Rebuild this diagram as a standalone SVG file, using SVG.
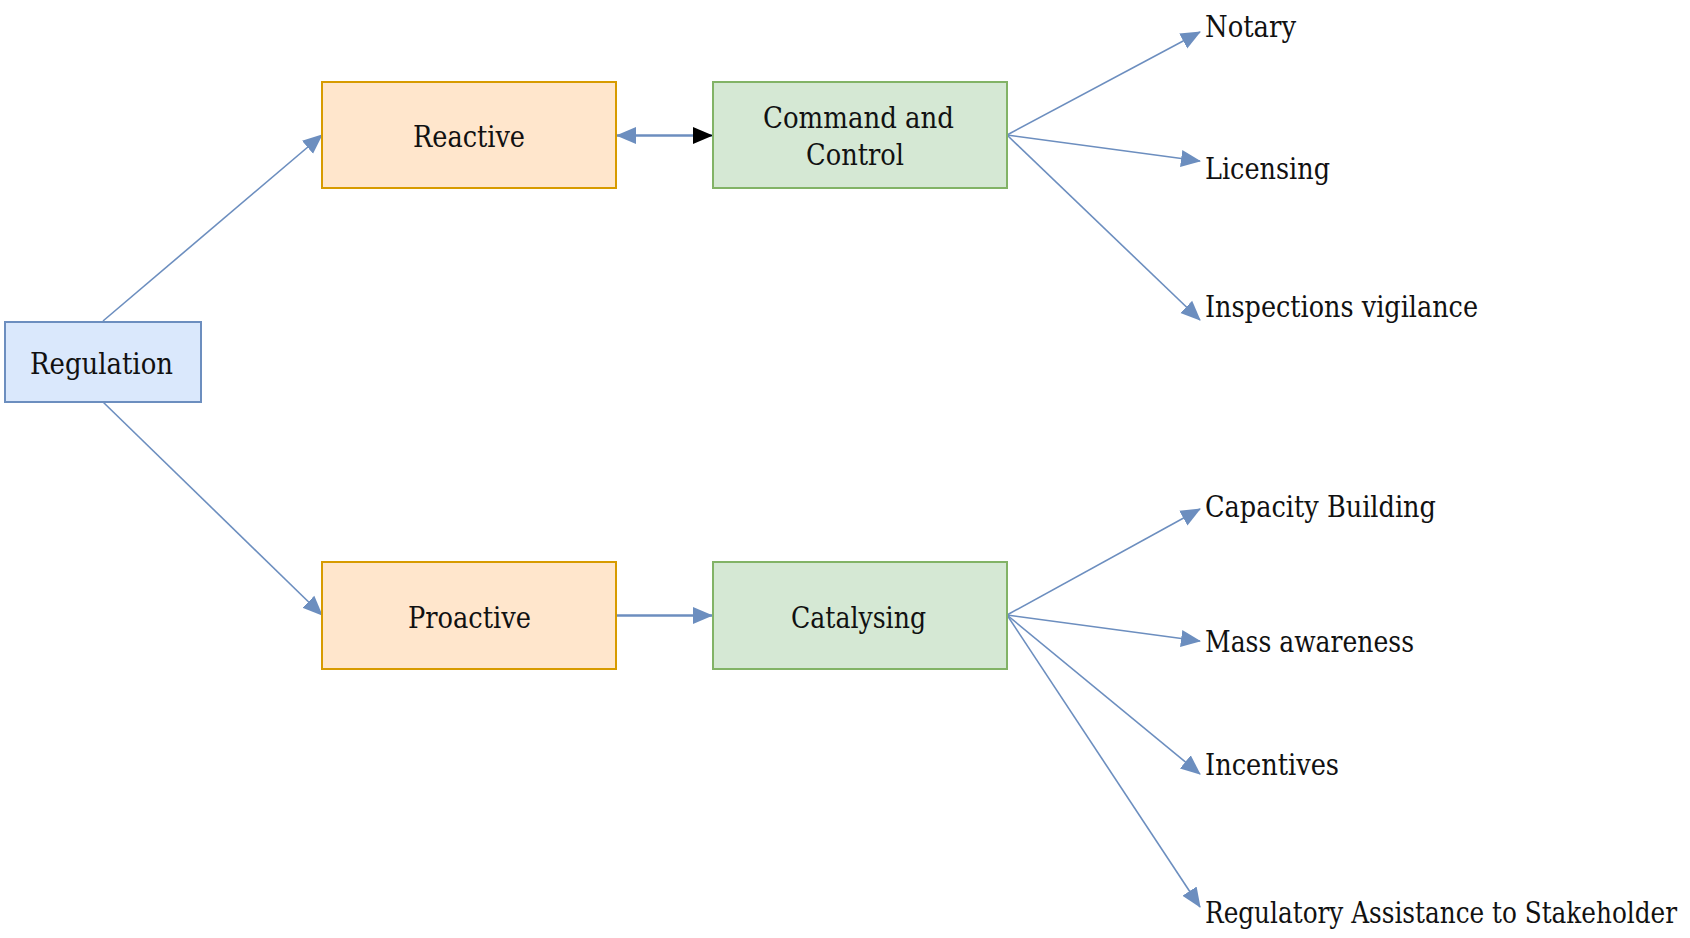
<svg xmlns="http://www.w3.org/2000/svg" width="1690" height="938" viewBox="0 0 1690 938">
<style>
.box{stroke-width:2}
.blue{fill:#dae8fc;stroke:#6c8ebf}
.orange{fill:#ffe6cc;stroke:#d79b00}
.green{fill:#d5e8d4;stroke:#82b366}
text{font-family:"DejaVu Serif Condensed","DejaVu Serif","Liberation Serif",serif;font-stretch:condensed;font-size:30px;fill:#111}
.edge{fill:none;stroke:#6c8ebf;stroke-width:1.6}
.thick{stroke-width:2.4}
</style>
<defs>
<marker id="ab" viewBox="0 0 20 20" markerWidth="20" markerHeight="20" refX="19" refY="10" orient="auto-start-reverse" markerUnits="userSpaceOnUse">
<path d="M0,1.5 L20,10 L0,18.5 Z" fill="#6c8ebf"/>
</marker>
<marker id="ak" viewBox="0 0 20 20" markerWidth="20" markerHeight="20" refX="19" refY="10" orient="auto" markerUnits="userSpaceOnUse">
<path d="M0,1.5 L20,10 L0,18.5 Z" fill="#000"/>
</marker>
</defs>
<rect width="1690" height="938" fill="#fff"/>
<g id="connectors">
<line class="edge" x1="103" y1="321" x2="322" y2="135" marker-end="url(#ab)"/>
<line class="edge" x1="103" y1="402" x2="322" y2="615" marker-end="url(#ab)"/>
<line class="edge thick" x1="617" y1="135.5" x2="712" y2="135.5" marker-start="url(#ab)" marker-end="url(#ak)"/>
<line class="edge thick" x1="616" y1="615.5" x2="712" y2="615.5" marker-end="url(#ab)"/>
<line class="edge" x1="1007" y1="135" x2="1200" y2="32" marker-end="url(#ab)"/>
<line class="edge" x1="1007" y1="135" x2="1200" y2="161" marker-end="url(#ab)"/>
<line class="edge" x1="1007" y1="135" x2="1200" y2="320" marker-end="url(#ab)"/>
<line class="edge" x1="1007" y1="615" x2="1200" y2="509" marker-end="url(#ab)"/>
<line class="edge" x1="1007" y1="615" x2="1200" y2="641" marker-end="url(#ab)"/>
<line class="edge" x1="1007" y1="615" x2="1200" y2="774" marker-end="url(#ab)"/>
<line class="edge" x1="1007" y1="615" x2="1200" y2="907" marker-end="url(#ab)"/>
</g>
<g id="node-regulation">
<rect class="box blue" x="5" y="322" width="196" height="80"/>
<text x="30" y="374" textLength="143" lengthAdjust="spacingAndGlyphs">Regulation</text>
</g>
<g id="node-reactive">
<rect class="box orange" x="322" y="82" width="294" height="106"/>
<text x="413" y="147" textLength="112" lengthAdjust="spacingAndGlyphs">Reactive</text>
</g>
<g id="node-command">
<rect class="box green" x="713" y="82" width="294" height="106"/>
<text x="763" y="128" textLength="191" lengthAdjust="spacingAndGlyphs">Command and</text>
<text x="806" y="165" textLength="98" lengthAdjust="spacingAndGlyphs">Control</text>
</g>
<g id="node-proactive">
<rect class="box orange" x="322" y="562" width="294" height="107"/>
<text x="408" y="628" textLength="123" lengthAdjust="spacingAndGlyphs">Proactive</text>
</g>
<g id="node-catalysing">
<rect class="box green" x="713" y="562" width="294" height="107"/>
<text x="791" y="628" textLength="135" lengthAdjust="spacingAndGlyphs">Catalysing</text>
</g>
<g id="node-notary"><text x="1205" y="37" textLength="91" lengthAdjust="spacingAndGlyphs">Notary</text></g>
<g id="node-licensing"><text x="1205" y="179" textLength="125" lengthAdjust="spacingAndGlyphs">Licensing</text></g>
<g id="node-inspections"><text x="1205" y="317" textLength="273" lengthAdjust="spacingAndGlyphs">Inspections vigilance</text></g>
<g id="node-capacity"><text x="1205" y="517" textLength="231" lengthAdjust="spacingAndGlyphs">Capacity Building</text></g>
<g id="node-mass"><text x="1205" y="652" textLength="209" lengthAdjust="spacingAndGlyphs">Mass awareness</text></g>
<g id="node-incentives"><text x="1205" y="775" textLength="134" lengthAdjust="spacingAndGlyphs">Incentives</text></g>
<g id="node-regulatory"><text x="1205" y="923" textLength="472" lengthAdjust="spacingAndGlyphs">Regulatory Assistance to Stakeholder</text></g>
</svg>
